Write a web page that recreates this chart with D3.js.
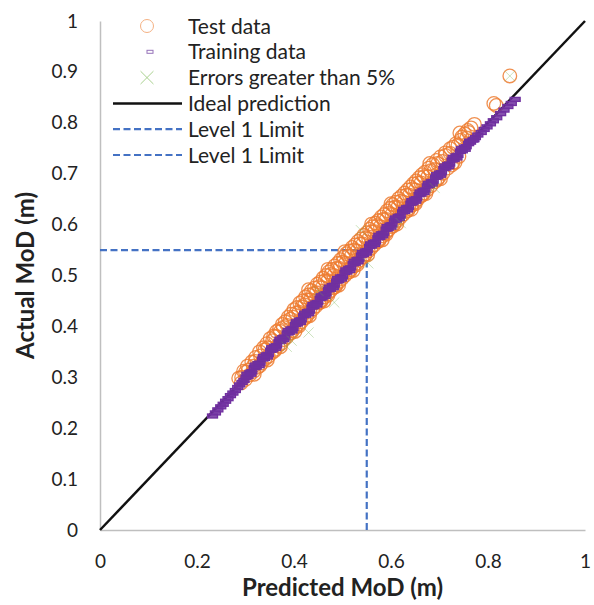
<!DOCTYPE html>
<html>
<head>
<meta charset="utf-8">
<script src="https://cdn.jsdelivr.net/npm/d3@7"></script>
<style>
  body { margin: 0; background: #fff; }
  text { font-family: Lato, "Open Sans", sans-serif; fill: #222; }
</style>
</head>
<body>
<div id="chart"></div>
<script>
// predicted vs actual (m)
const testData = [
  [0.286,0.298],[0.291,0.289],[0.296,0.312],[0.300,0.296],[0.304,0.322],[0.309,0.305],[0.313,0.330],
  [0.317,0.312],[0.321,0.339],[0.325,0.320],[0.329,0.350],[0.333,0.328],[0.337,0.358],[0.340,0.336],
  [0.344,0.366],[0.347,0.341],[0.351,0.376],[0.354,0.348],[0.358,0.381],[0.361,0.355],[0.364,0.390],
  [0.367,0.362],[0.370,0.394],[0.373,0.366],[0.376,0.404],[0.379,0.374],[0.382,0.409],[0.385,0.379],
  [0.388,0.418],[0.391,0.386],[0.394,0.424],[0.397,0.392],[0.400,0.433],[0.403,0.398],[0.406,0.437],
  [0.409,0.404],[0.412,0.446],[0.415,0.409],[0.418,0.450],[0.421,0.416],[0.424,0.458],[0.427,0.422],
  [0.430,0.462],[0.433,0.428],[0.436,0.470],[0.439,0.434],[0.442,0.475],[0.445,0.440],[0.448,0.483],
  [0.451,0.446],[0.454,0.487],[0.457,0.452],[0.460,0.495],[0.463,0.458],[0.466,0.500],[0.469,0.464],
  [0.472,0.507],[0.475,0.470],[0.478,0.512],[0.481,0.476],[0.484,0.519],[0.487,0.482],[0.490,0.524],
  [0.493,0.488],[0.496,0.531],[0.499,0.494],[0.502,0.536],[0.505,0.500],[0.508,0.543],[0.511,0.506],
  [0.514,0.548],[0.517,0.512],[0.520,0.555],[0.523,0.518],[0.526,0.560],[0.529,0.524],[0.532,0.567],
  [0.535,0.530],[0.538,0.572],[0.541,0.536],[0.544,0.579],[0.547,0.542],[0.550,0.584],[0.553,0.548],
  [0.556,0.591],[0.559,0.554],[0.562,0.596],[0.565,0.560],[0.568,0.603],[0.571,0.566],[0.574,0.608],
  [0.577,0.572],[0.580,0.615],[0.583,0.578],[0.586,0.620],[0.589,0.584],[0.592,0.627],[0.595,0.590],
  [0.598,0.632],[0.601,0.596],[0.604,0.639],[0.607,0.602],[0.610,0.644],[0.613,0.608],[0.616,0.651],
  [0.619,0.614],[0.622,0.656],[0.625,0.620],[0.628,0.662],[0.631,0.626],[0.634,0.668],[0.637,0.632],
  [0.640,0.674],[0.643,0.638],[0.646,0.680],[0.649,0.644],[0.652,0.686],[0.655,0.650],[0.658,0.692],
  [0.661,0.656],[0.664,0.698],[0.667,0.662],[0.670,0.703],[0.674,0.668],[0.678,0.711],[0.682,0.676],
  [0.686,0.718],[0.690,0.684],[0.694,0.726],[0.698,0.692],[0.702,0.733],[0.707,0.701],[0.712,0.741],
  [0.717,0.711],[0.722,0.749],[0.728,0.722],[0.734,0.759],[0.740,0.734],[0.746,0.772],[0.752,0.778],
  [0.758,0.785],[0.765,0.790],[0.772,0.797],[0.812,0.838],[0.817,0.834],[0.845,0.892],
  [0.300,0.310],[0.320,0.331],[0.340,0.354],[0.356,0.372],[0.372,0.390],[0.386,0.402],[0.398,0.418],
  [0.410,0.428],[0.422,0.442],[0.434,0.452],[0.446,0.466],[0.458,0.476],[0.470,0.490],[0.482,0.500],
  [0.494,0.514],[0.506,0.524],[0.518,0.538],[0.530,0.548],[0.542,0.562],[0.554,0.572],[0.566,0.586],
  [0.578,0.596],[0.590,0.610],[0.602,0.620],[0.614,0.634],[0.626,0.644],[0.638,0.658],[0.650,0.668],
  [0.662,0.682],[0.676,0.694],[0.690,0.708],[0.706,0.724],[0.722,0.740],[0.738,0.756],[0.756,0.770],
  [0.430,0.472],[0.505,0.547],[0.600,0.641],[0.680,0.720],[0.742,0.780],[0.470,0.512],[0.560,0.601],
  [0.292,0.300],[0.306,0.314],[0.316,0.322],[0.331,0.342],[0.346,0.358],[0.362,0.380],[0.378,0.398],
  [0.392,0.414],[0.404,0.426],[0.416,0.438],[0.428,0.452],[0.440,0.464],[0.452,0.478],[0.464,0.490],
  [0.476,0.502],[0.488,0.514],[0.500,0.526],[0.512,0.538],[0.524,0.550],[0.536,0.562],[0.548,0.574],
  [0.560,0.586],[0.572,0.598],[0.584,0.610],[0.596,0.622],[0.608,0.634],[0.620,0.646],[0.632,0.658],
  [0.644,0.670],[0.656,0.682],[0.668,0.694],[0.682,0.706],[0.696,0.720],[0.712,0.736],[0.728,0.752],
  [0.744,0.766],[0.760,0.781],
  [0.395,0.388],[0.425,0.418],[0.455,0.448],[0.485,0.478],[0.515,0.508],[0.545,0.538],[0.575,0.568],
  [0.605,0.598],[0.635,0.628],[0.665,0.658],[0.695,0.688],[0.725,0.717],[0.360,0.352],[0.330,0.323],
  [0.318,0.306],[0.345,0.334],[0.372,0.360],[0.402,0.390],[0.432,0.421],[0.462,0.450],[0.492,0.481],
  [0.522,0.510],[0.552,0.541],[0.582,0.570],[0.612,0.601],[0.642,0.630],[0.672,0.661],[0.702,0.690],
  [0.732,0.722],[0.410,0.401],[0.470,0.461],[0.530,0.521],[0.590,0.581],[0.650,0.641]
];

const trainData = [
  [0.232,0.224],[0.238,0.230],[0.243,0.236],[0.249,0.242],[0.254,0.247],[0.259,0.253],[0.264,0.258],
  [0.269,0.264],[0.274,0.269],[0.279,0.274],[0.284,0.280],[0.288,0.285],[0.293,0.290],[0.297,0.294],
  [0.301,0.300],[0.305,0.302],[0.309,0.309],[0.313,0.311],[0.318,0.319],[0.322,0.320],[0.326,0.327],
  [0.330,0.328],[0.335,0.336],[0.339,0.337],[0.343,0.344],[0.347,0.345],[0.352,0.353],[0.356,0.354],
  [0.360,0.361],[0.364,0.362],[0.369,0.370],[0.373,0.371],[0.377,0.378],[0.381,0.379],[0.386,0.387],
  [0.390,0.388],[0.394,0.395],[0.398,0.396],[0.403,0.404],[0.407,0.405],[0.411,0.412],[0.415,0.413],
  [0.420,0.421],[0.424,0.422],[0.428,0.429],[0.432,0.430],[0.437,0.438],[0.441,0.439],[0.445,0.446],
  [0.449,0.447],[0.454,0.455],[0.458,0.456],[0.462,0.463],[0.466,0.464],[0.471,0.472],[0.475,0.473],
  [0.479,0.480],[0.483,0.481],[0.488,0.489],[0.492,0.490],[0.496,0.497],[0.500,0.498],[0.505,0.506],
  [0.509,0.507],[0.513,0.514],[0.517,0.515],[0.522,0.523],[0.526,0.524],[0.530,0.531],[0.534,0.532],
  [0.539,0.540],[0.543,0.541],[0.547,0.548],[0.551,0.549],[0.556,0.557],[0.560,0.558],[0.564,0.565],
  [0.568,0.566],[0.573,0.574],[0.577,0.575],[0.581,0.582],[0.585,0.583],[0.590,0.591],[0.594,0.592],
  [0.598,0.599],[0.602,0.600],[0.607,0.608],[0.611,0.609],[0.615,0.616],[0.619,0.617],[0.624,0.625],
  [0.628,0.626],[0.632,0.633],[0.636,0.634],[0.641,0.642],[0.645,0.643],[0.649,0.650],[0.653,0.651],
  [0.658,0.659],[0.662,0.660],[0.666,0.667],[0.670,0.668],[0.675,0.676],[0.679,0.677],[0.683,0.684],
  [0.687,0.685],[0.692,0.693],[0.696,0.694],[0.700,0.701],[0.704,0.702],[0.709,0.710],[0.713,0.711],
  [0.717,0.718],[0.721,0.719],[0.726,0.727],[0.730,0.728],[0.734,0.735],[0.738,0.736],[0.743,0.744],
  [0.747,0.745],[0.751,0.752],[0.755,0.753],[0.760,0.759],[0.764,0.762],[0.769,0.766],[0.774,0.771],
  [0.779,0.776],[0.786,0.781],[0.792,0.787],[0.798,0.792],[0.805,0.798],[0.811,0.804],[0.818,0.810],
  [0.826,0.818],[0.833,0.825],[0.841,0.832],[0.848,0.838],[0.856,0.846],
  [0.303,0.306],[0.311,0.306],[0.320,0.324],[0.328,0.323],[0.337,0.341],[0.345,0.340],[0.354,0.358],
  [0.362,0.357],[0.371,0.375],[0.379,0.374],[0.388,0.392],[0.396,0.391],[0.405,0.409],[0.413,0.408],
  [0.422,0.426],[0.430,0.425],[0.439,0.443],[0.447,0.442],[0.456,0.460],[0.464,0.459],[0.473,0.477],
  [0.481,0.476],[0.490,0.494],[0.498,0.493],[0.507,0.511],[0.515,0.510],[0.524,0.528],[0.532,0.527],
  [0.541,0.545],[0.549,0.544],[0.558,0.562],[0.566,0.561],[0.575,0.579],[0.583,0.578],[0.592,0.596],
  [0.600,0.595],[0.609,0.613],[0.617,0.612],[0.626,0.630],[0.634,0.629],[0.643,0.647],[0.651,0.646],
  [0.660,0.664],[0.668,0.663],[0.677,0.681],[0.685,0.680],[0.694,0.698],[0.702,0.697],[0.711,0.715],
  [0.719,0.714],[0.728,0.732],[0.736,0.731],[0.745,0.749],[0.753,0.748],[0.762,0.764],[0.771,0.767]
];

const errorData = [
  [0.845,0.892],[0.538,0.589],[0.553,0.524],[0.430,0.388],[0.483,0.447],[0.385,0.360],
  [0.395,0.372],[0.620,0.603],[0.450,0.470],[0.690,0.672]
];

const idealLine = [[0, 0], [1, 1]];
const levelLimit = 0.55;

const xTicks = [0, 0.2, 0.4, 0.6, 0.8, 1];
const yTicks = [0, 0.1, 0.2, 0.3, 0.4, 0.5, 0.6, 0.7, 0.8, 0.9, 1];

const legendItems = ["Test data", "Training data", "Errors greater than 5%",
                     "Ideal prediction", "Level 1 Limit", "Level 1 Limit"];

const W = 594, H = 605;
const orange = "#ED7D31", purple = "#7030A0", green = "#70AD47",
      blue = "#4472C4", axisGray = "#BFBFBF";

const svg = d3.select("#chart")
    .append("svg")
    .attr("width", W)
    .attr("height", H);

const x = d3.scaleLinear().domain([0, 1]).range([100, 585]);
const y = d3.scaleLinear().domain([0, 1]).range([530, 21]);

// axes
const xAxis = svg.append("g")
    .attr("transform", `translate(0,${y(0)})`)
    .call(d3.axisBottom(x).tickValues(xTicks).tickSize(0).tickPadding(25).tickFormat(d => String(d)));

const yAxis = svg.append("g")
    .attr("transform", `translate(${x(0)},0)`)
    .call(d3.axisLeft(y).tickValues(yTicks).tickSize(0).tickPadding(22).tickFormat(d => String(d)));

[xAxis, yAxis].forEach(g => {
    g.select(".domain").attr("stroke", axisGray).attr("stroke-width", 1.5);
    g.selectAll("text")
        .style("font-family", "Lato, sans-serif")
        .style("font-size", "19px")
        .attr("fill", "#222");
});

// level 1 limit
const limit = svg.append("g")
    .attr("fill", "none")
    .attr("stroke", blue)
    .attr("stroke-width", 2.2)
    .attr("stroke-dasharray", "7,3.5");

limit.append("line")
    .attr("x1", x(0)).attr("y1", y(levelLimit))
    .attr("x2", x(levelLimit)).attr("y2", y(levelLimit));

limit.append("line")
    .attr("x1", x(levelLimit)).attr("y1", y(0))
    .attr("x2", x(levelLimit)).attr("y2", y(levelLimit));

// ideal prediction
svg.append("path")
    .datum(idealLine)
    .attr("fill", "none")
    .attr("stroke", "#111")
    .attr("stroke-width", 2.5)
    .attr("d", d3.line().x(d => x(d[0])).y(d => y(d[1])));

// test data
svg.append("g")
    .selectAll("circle")
    .data(testData)
    .enter()
    .append("circle")
    .attr("cx", d => x(d[0]))
    .attr("cy", d => y(d[1]))
    .attr("r", 6.8)
    .attr("fill", "none")
    .attr("stroke", orange)
    .attr("stroke-opacity", 0.85)
    .attr("stroke-width", 1.3);

// training data (dense, so the boxes merge into a band)
svg.append("g")
    .selectAll("rect")
    .data(trainData)
    .enter()
    .append("rect")
    .attr("x", d => x(d[0]) - 5)
    .attr("y", d => y(d[1]) - 2)
    .attr("width", 10)
    .attr("height", 4)
    .attr("fill", purple)
    .attr("fill-opacity", 0.85)
    .attr("stroke", purple)
    .attr("stroke-width", 1.3);

// errors greater than 5%
const cross = d3.symbol().type(d3.symbolX).size(70);
svg.append("g")
    .selectAll("path")
    .data(errorData)
    .enter()
    .append("path")
    .attr("transform", d => `translate(${x(d[0])},${y(d[1])})`)
    .attr("d", cross)
    .attr("fill", "none")
    .attr("stroke", green)
    .attr("stroke-opacity", 0.45)
    .attr("stroke-width", 0.8);

// legend
const legend = svg.append("g");
const rowY = i => 26 + i * 25.8;

legend.selectAll("text")
    .data(legendItems)
    .enter()
    .append("text")
    .attr("x", 188)
    .attr("y", (d, i) => rowY(i))
    .attr("dy", "0.36em")
    .style("font-size", "21px")
    .text(d => d);

legend.append("circle")
    .attr("cx", 147).attr("cy", rowY(0)).attr("r", 6.5)
    .attr("fill", "none").attr("stroke", "#F4B183").attr("stroke-width", 1);

legend.append("rect")
    .attr("x", 147).attr("y", rowY(1) - 1.5).attr("width", 6).attr("height", 3)
    .attr("fill", "none").attr("stroke", "#9673B9").attr("stroke-width", 1);

legend.append("path")
    .attr("transform", `translate(147,${rowY(2)})`)
    .attr("d", d3.symbol().type(d3.symbolX).size(110))
    .attr("fill", "none").attr("stroke", "#A9D18E").attr("stroke-width", 1);

legend.append("line")
    .attr("x1", 113).attr("x2", 182).attr("y1", rowY(3)).attr("y2", rowY(3))
    .attr("stroke", "#111").attr("stroke-width", 2.5);

[4, 5].forEach(i => {
    legend.append("line")
        .attr("x1", 113).attr("x2", 182).attr("y1", rowY(i)).attr("y2", rowY(i))
        .attr("stroke", blue).attr("stroke-width", 2.2).attr("stroke-dasharray", "7,3.5");
});

// axis titles
svg.append("text")
    .attr("x", x(0.5))
    .attr("y", 596)
    .attr("text-anchor", "middle")
    .style("font-size", "24px")
    .style("font-weight", "bold")
    .text("Predicted MoD (m)");

svg.append("text")
    .attr("transform", `translate(34,${y(0.5)}) rotate(-90)`)
    .attr("text-anchor", "middle")
    .style("font-size", "24px")
    .style("font-weight", "bold")
    .text("Actual MoD (m)");
</script>
</body>
</html>
